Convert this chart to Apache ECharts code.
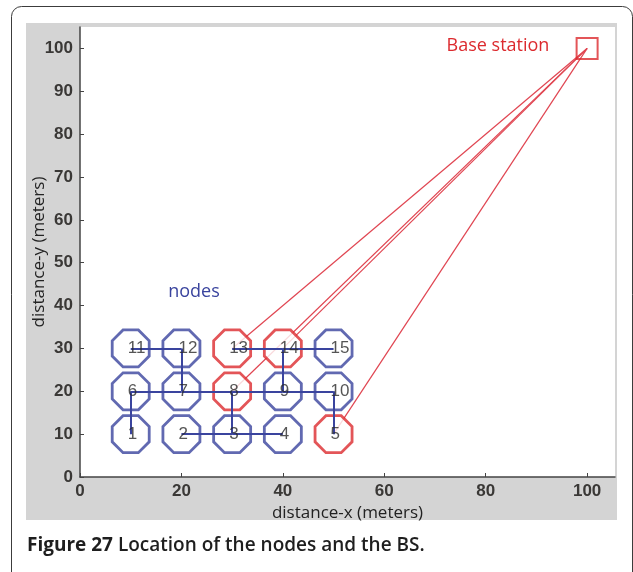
<!DOCTYPE html>
<html>
<head>
<meta charset="utf-8">
<script src="https://cdn.jsdelivr.net/npm/echarts@6/dist/echarts.min.js"></script>
<style>
  html, body { margin: 0; padding: 0; background: #ffffff; }
  #chart { width: 633px; height: 572px; }
</style>
</head>
<body>
<div id="chart"></div>
<script>
// Sensor nodes laid out on a 5 x 3 grid (meters)
const nodeIds = [1, 2, 3, 4, 5, 6, 7, 8, 9, 10, 11, 12, 13, 14, 15];
const nodeX = [10, 20, 30, 40, 50, 10, 20, 30, 40, 50, 10, 20, 30, 40, 50];
const nodeY = [10, 10, 10, 10, 10, 20, 20, 20, 20, 20, 30, 30, 30, 30, 30];

// Cluster heads forward their data straight to the base station
const clusterHeads = [5, 8, 13, 14];

// Intra-cluster links between nodes (pairs of node ids)
const treeLinks = [
  [11, 12], [12, 7], [13, 14], [14, 15], [14, 9],
  [6, 7], [7, 8], [8, 9], [9, 10], [10, 5],
  [6, 1], [8, 3], [2, 3], [3, 4]
];

const baseStation = [100, 100];

const xTicks = [0, 20, 40, 60, 80, 100];
const yTicks = [0, 10, 20, 30, 40, 50, 60, 70, 80, 90, 100];

const BLUE = '#3a449e';
const RED = '#dc2a2e';
const LINK_RED = '#e04551';

const pos = id => {
  const i = nodeIds.indexOf(id);
  return [nodeX[i], nodeY[i]];
};

// Octagonal marker, like a coarse circle marker
const OCTAGON = 'path://M29.3,0 L70.7,0 L100,29.3 L100,70.7 L70.7,100 L29.3,100 L0,70.7 L0,29.3 Z';

const chart = echarts.init(document.getElementById('chart'), null, { renderer: 'canvas' });

const tickFont = {
  color: '#3a3836',
  fontFamily: 'Liberation Sans, Arial, sans-serif',
  fontWeight: 'bold',
  fontSize: 17
};

const titleFont = { fontFamily: 'Open Sans, sans-serif', fontSize: 17, color: '#222222' };

chart.setOption({
  animation: false,
  backgroundColor: '#ffffff',
  grid: {
    left: 80, top: 27, right: 18, bottom: 95,
    show: true, backgroundColor: '#ffffff', borderWidth: 0
  },
  xAxis: {
    type: 'value', min: 0, max: 105.5,
    splitLine: { show: false },
    axisLine: { show: true, lineStyle: { color: '#444444', width: 1.5 } },
    axisTick: { show: true, inside: true, length: 4, customValues: xTicks, lineStyle: { color: '#444444' } },
    axisLabel: Object.assign({ margin: 6, customValues: xTicks }, tickFont),
    name: 'distance-x (meters)',
    nameLocation: 'middle',
    nameGap: 25,
    nameTextStyle: titleFont
  },
  yAxis: {
    type: 'value', min: 0, max: 105,
    splitLine: { show: false },
    axisLine: { show: true, lineStyle: { color: '#444444', width: 1.5 } },
    axisTick: { show: true, inside: true, length: 4, customValues: yTicks, lineStyle: { color: '#444444' } },
    axisLabel: Object.assign({ margin: 7, customValues: yTicks }, tickFont),
    name: 'distance-y (meters)',
    nameLocation: 'middle',
    nameMoveOverlap: false,
    nameGap: 32,
    nameTextStyle: titleFont
  },
  graphic: [
    {
      type: 'rect', z: -20, silent: true,
      shape: { x: 11.5, y: 6.5, width: 621, height: 640, r: 10 },
      style: { fill: '#ffffff', stroke: '#3c3c3c', lineWidth: 1 }
    },
    {
      type: 'rect', z: -10, silent: true,
      shape: { x: 26, y: 23, width: 591, height: 497 },
      style: { fill: '#d4d4d4' }
    },
    {
      type: 'text', z: 10, silent: true,
      x: 498, y: 46,
      style: {
        text: 'Base station', fill: RED,
        font: '18px "Open Sans", sans-serif',
        align: 'center', verticalAlign: 'middle'
      }
    },
    {
      type: 'text', z: 10, silent: true,
      x: 194, y: 292,
      style: {
        text: 'nodes', fill: BLUE,
        font: '18px "Open Sans", sans-serif',
        align: 'center', verticalAlign: 'middle'
      }
    },
    {
      type: 'text', z: 10, silent: true,
      x: 27, y: 546,
      style: {
        text: '{b|Figure 27} {r|Location of the nodes and the BS.}',
        fill: '#1e1e1e',
        font: '600 19px "Open Sans", sans-serif',
        align: 'left', verticalAlign: 'middle',
        rich: {
          b: { fontWeight: 'bold', fontSize: 19, fontFamily: 'Open Sans, sans-serif', fill: '#1e1e1e' },
          r: { fontWeight: 600, fontSize: 19, fontFamily: 'Open Sans, sans-serif', fill: '#1e1e1e' }
        }
      }
    }
  ],
  series: [
    {
      // Cluster head -> base station uplinks
      name: 'uplinks',
      type: 'lines',
      coordinateSystem: 'cartesian2d',
      z: 1,
      silent: true,
      lineStyle: { color: LINK_RED, width: 1.2, opacity: 1 },
      data: clusterHeads.map(id => ({ coords: [pos(id), baseStation] }))
    },
    {
      name: 'nodes',
      type: 'scatter',
      z: 2,
      silent: true,
      symbol: OCTAGON,
      symbolSize: 37,
      data: nodeIds.map((id, i) => ({
        value: [nodeX[i], nodeY[i]],
        itemStyle: {
          color: '#ffffff',
          borderColor: clusterHeads.includes(id) ? RED : BLUE,
          borderWidth: 2.8
        }
      }))
    },
    {
      // Links inside the clusters
      name: 'links',
      type: 'lines',
      coordinateSystem: 'cartesian2d',
      z: 3,
      silent: true,
      lineStyle: { color: BLUE, width: 2, opacity: 1 },
      data: treeLinks.map(([a, b]) => ({ coords: [pos(a), pos(b)] }))
    },
    {
      name: 'node ids',
      type: 'scatter',
      z: 4,
      silent: true,
      symbolSize: 0,
      data: nodeIds.map((id, i) => ({ value: [nodeX[i], nodeY[i]], name: String(id) })),
      label: {
        show: true,
        position: 'right',
        distance: -3,
        formatter: p => p.name,
        color: '#2b2b2b',
        fontFamily: 'Liberation Sans, Arial, sans-serif',
        fontSize: 17
      }
    },
    {
      name: 'base station',
      type: 'scatter',
      z: 5,
      silent: true,
      symbol: 'rect',
      symbolSize: 21,
      data: [baseStation],
      itemStyle: { color: 'rgba(0,0,0,0)', borderColor: RED, borderWidth: 2 }
    }
  ]
});
</script>
</body>
</html>
